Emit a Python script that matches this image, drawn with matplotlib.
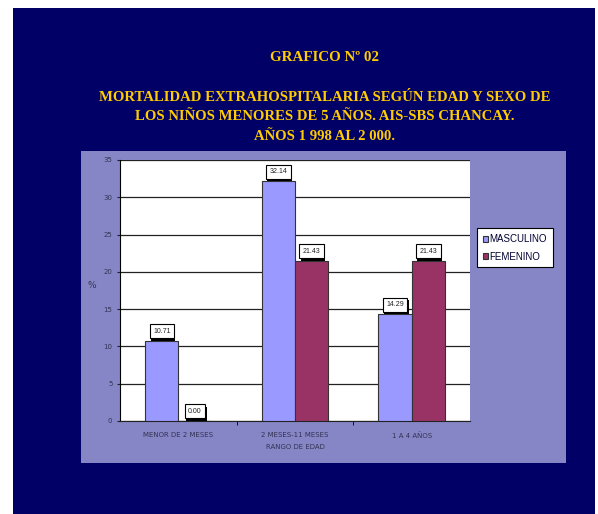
import matplotlib.pyplot as plt
import matplotlib.patches as mpatches
import matplotlib.patheffects as pe
import numpy as np

# Datos del gráfico
categorias = ['MENOR DE 2 MESES', '2 MESES-11 MESES', '1 A 4 AÑOS']
masculino = [10.71, 32.14, 14.29]
femenino = [0.00, 21.43, 21.43]
series = ['MASCULINO', 'FEMENINO']

azul_fondo = '#000066'
lavanda = '#8686C6'
c_masc = '#9999FF'
c_fem = '#993366'

fig = plt.figure(figsize=(5.98, 5.14), dpi=100)
fig.patch.set_facecolor('white')

# fondo azul y área del gráfico
fig.patches.append(mpatches.Rectangle((0.0217, 0.0), 0.973, 0.9844, transform=fig.transFigure,
                                      facecolor=azul_fondo, edgecolor='none', zorder=-2))
fig.patches.append(mpatches.Rectangle((0.1355, 0.0992), 0.811, 0.607, transform=fig.transFigure,
                                      facecolor=lavanda, edgecolor='none', zorder=-1))

# títulos
fig.text(0.543, 0.889, 'GRAFICO Nº 02', ha='center', va='center', color='#FFCC00',
         fontsize=10.8, fontweight='bold', family='Liberation Serif')
lineas = ['MORTALIDAD EXTRAHOSPITALARIA SEGÚN EDAD Y SEXO DE',
          'LOS NIÑOS MENORES DE 5 AÑOS. AIS-SBS CHANCAY.',
          'AÑOS 1 998 AL 2 000.']
for i, linea in enumerate(lineas):
    fig.text(0.543, 0.811 - i * 0.038, linea, ha='center', va='center', color='#FFCC00',
             fontsize=10.6, fontweight='bold', family='Liberation Serif')

ax = fig.add_axes([0.2007, 0.181, 0.5853, 0.5078], zorder=2)
ax.set_facecolor('white')

x = np.arange(len(categorias))
ancho = 0.285
b1 = ax.bar(x - ancho / 2, masculino, ancho, color=c_masc, edgecolor='#333333', linewidth=0.8,
            label=series[0], zorder=3)
b2 = ax.bar(x + ancho / 2, femenino, ancho, color=c_fem, edgecolor='#333333', linewidth=0.8,
            label=series[1], zorder=3)

# etiquetas de datos con sombra
sombra = [pe.SimplePatchShadow(offset=(1.0, -1.8), shadow_rgbFace='black', alpha=1.0), pe.Normal()]
for barras, valores in ((b1, masculino), (b2, femenino)):
    for barra, v in zip(barras, valores):
        cx = barra.get_x() + barra.get_width() / 2
        et = ax.annotate(f'{v:.2f}', (cx, v), xytext=(0, 4.5), textcoords='offset points',
                         ha='center', va='bottom', fontsize=5, color='#222222', zorder=5,
                         family='Liberation Sans',
                         bbox=dict(boxstyle='square,pad=0.5', facecolor='white', edgecolor='black',
                                   linewidth=0.8))
        et.get_bbox_patch().set_path_effects(sombra)

ax.set_xlim(-0.5, 2.5)
ax.set_ylim(0, 35)
ax.set_yticks(np.arange(0, 36, 5))
ax.yaxis.grid(True, color='#222222', linewidth=0.9, zorder=0)
ax.set_axisbelow(True)
ax.set_xticks(x)
ax.set_xticklabels(categorias)
ax.tick_params(axis='both', labelsize=5, labelcolor='#333355', length=2, color='#222222')
ax.set_xticks([0.5, 1.5], minor=True)
ax.tick_params(axis='x', which='major', length=0, pad=8)
ax.tick_params(axis='x', which='minor', length=3)
ax.set_xlabel('RANGO DE EDAD', fontsize=5, color='#333355', labelpad=4)
ax.set_ylabel('%', fontsize=6.5, color='#333355', rotation=0, labelpad=8)
for lado in ['top', 'right']:
    ax.spines[lado].set_visible(False)
ax.spines['left'].set_color('black')
ax.spines['bottom'].set_color('#222222')

leg = fig.legend(handles=[b1, b2], loc='upper left', bbox_to_anchor=(0.789, 0.565),
                 prop={'family': 'Liberation Sans', 'size': 7},
                 frameon=True, fancybox=False, edgecolor='black', facecolor='white', framealpha=1,
                 handlelength=0.55, handleheight=0.55, handletextpad=0.15, borderpad=0.6,
                 labelspacing=0.75)
leg.get_frame().set_linewidth(0.8)
for t in leg.get_texts():
    t.set_color('#000033')

fig.savefig('out.png', dpi=100, facecolor=fig.get_facecolor())
